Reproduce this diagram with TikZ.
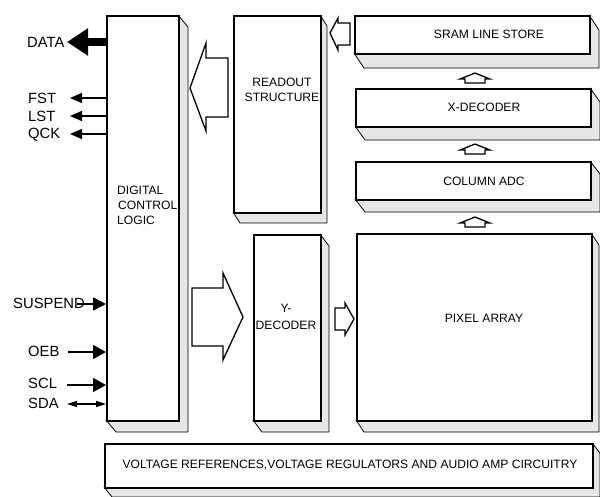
\documentclass[tikz,border=0pt]{standalone}
\usepackage{fontspec}
\setmainfont{Liberation Sans}
\usetikzlibrary{arrows.meta}
\definecolor{shade}{HTML}{E6E6E6}
\tikzset{
  front/.style={draw=black, fill=white, line width=1.7pt, inner sep=0pt, anchor=north west},
  shadowbox/.style={fill=shade, draw=black, line width=0.8pt, line join=round},
  lbl/.style={font=\fontsize{12.1}{15}\selectfont, inner sep=0pt},
  sig/.style={font=\fontsize{14.8}{16}\selectfont, inner sep=0pt, anchor=west, text depth=0pt},
  hollow/.style={draw=black, fill=white, line width=1.3pt, line join=miter},
  wire/.style={line width=1.6pt},
}
\newcommand\tdbox[7]{%
  \path[shadowbox] (#4,#3) -- (#4+#6,#3+#7) -- (#4+#6,#5+#7) -- (#2+#6,#5+#7) -- (#2,#5) -- (#4,#5) -- cycle;
  \node[front, minimum width={#4-#2}, minimum height={#5-#3}] (#1) at (#2,#3) {};
}
\newcommand\uparr[1]{%
  \path[hollow] (465,#1+10) -- (465,#1+6) -- (460,#1+6) -- (475,#1) -- (490,#1+6) -- (485,#1+6) -- (485,#1+10) -- cycle;
}
\begin{document}
\begin{tikzpicture}[x=1pt, y=-1pt]
\useasboundingbox (0,0) rectangle (600,496);
% boxes
\tdbox{dcl}{106}{15}{178}{420}{10}{12}
\tdbox{readout}{233}{15}{320}{212}{7}{11}
\tdbox{sram}{354}{15}{589}{53}{10}{15}
\tdbox{xdec}{355}{88}{590}{126}{10}{14}
\tdbox{adc}{355}{161}{590}{199}{10}{13}
\tdbox{pixel}{356}{233}{591}{420}{8}{12}
\tdbox{ydec}{253}{234}{320}{420}{9}{12}
\tdbox{volt}{104}{443}{592}{487}{8}{10}
% box texts
\node[lbl, align=left, anchor=west] (dcltxt) at (117,205) {DIGITAL\\\hspace{1pt}CONTROL\\LOGIC};
\node[lbl, align=center] (readouttxt) at (282,90) {READOUT\\STRUCTURE};
\node[lbl, align=center, font=\fontsize{12.1}{17}\selectfont] (ydectxt) at (286,317) {Y-\\DECODER};
\node[lbl] (sramtxt) at (489,34) {SRAM LINE STORE};
\node[lbl] (xdectxt) at (484,107) {X-DECODER};
\node[lbl] (adctxt) at (484,181) {COLUMN ADC};
\node[lbl] (pixeltxt) at (484,318) {PIXEL ARRAY};
\node[lbl] (volttxt) at (350,465) {VOLTAGE REFERENCES,VOLTAGE REGULATORS AND AUDIO AMP CIRCUITRY};
% hollow arrows
\path[hollow] (228,58) -- (206,58) -- (206,43) -- (190,88) -- (206,131) -- (206,117) -- (228,117) -- cycle;
\path[hollow] (350,23) -- (338,23) -- (338,18) -- (330,33) -- (338,50) -- (338,45) -- (350,45) -- cycle;
\path[hollow] (192,288) -- (223,288) -- (223,273) -- (243,317) -- (223,360) -- (223,346) -- (192,346) -- cycle;
\path[hollow] (335,308) -- (345,308) -- (345,303) -- (354,319) -- (345,335) -- (345,330) -- (335,330) -- cycle;
\uparr{73}
\uparr{144}
\uparr{217}
% signal labels
\node[sig] (data) at (27,42) {DATA};
\node[sig] (fst) at (28,98) {FST};
\node[sig] (lst) at (28,116) {LST};
\node[sig] (qck) at (28,133) {QCK};
\node[sig] (suspend) at (13,303) {SUSPEND};
\node[sig] (oeb) at (28,351) {OEB};
\node[sig] (scl) at (28,383) {SCL};
\node[sig] (sda) at (28,403) {SDA};
% signal wires
\coordinate (datatip) at (67,42);
\coordinate (fsttip) at (70,98);
\coordinate (lsttip) at (70,116);
\coordinate (qcktip) at (70,134);
\coordinate (suspstart) at (77,304);
\coordinate (oebstart) at (68,352);
\coordinate (sclstart) at (67,385);
\coordinate (sdastart) at (67,404);
\draw[line width=8pt, -{Triangle[length=21pt,width=26pt]}] (datatip -| dcl.west) -- (datatip);
\draw[wire, -{Triangle[length=12pt,width=10pt]}] (fsttip -| dcl.west) -- (fsttip);
\draw[wire, -{Triangle[length=12pt,width=10pt]}] (lsttip -| dcl.west) -- (lsttip);
\draw[wire, -{Triangle[length=12pt,width=10pt]}] (qcktip -| dcl.west) -- (qcktip);
\draw[wire, -{Triangle[length=13pt,width=13pt]}] (suspstart) -- (suspstart -| dcl.west);
\draw[wire, -{Triangle[length=13pt,width=14pt]}] (oebstart) -- (oebstart -| dcl.west);
\draw[wire, -{Triangle[length=13pt,width=14pt]}] (sclstart) -- (sclstart -| dcl.west);
\draw[line width=1.2pt, {Triangle[length=10pt,width=6pt]}-{Triangle[length=10pt,width=6pt]}] (sdastart) -- (sdastart -| dcl.west);
\end{tikzpicture}
\end{document}
